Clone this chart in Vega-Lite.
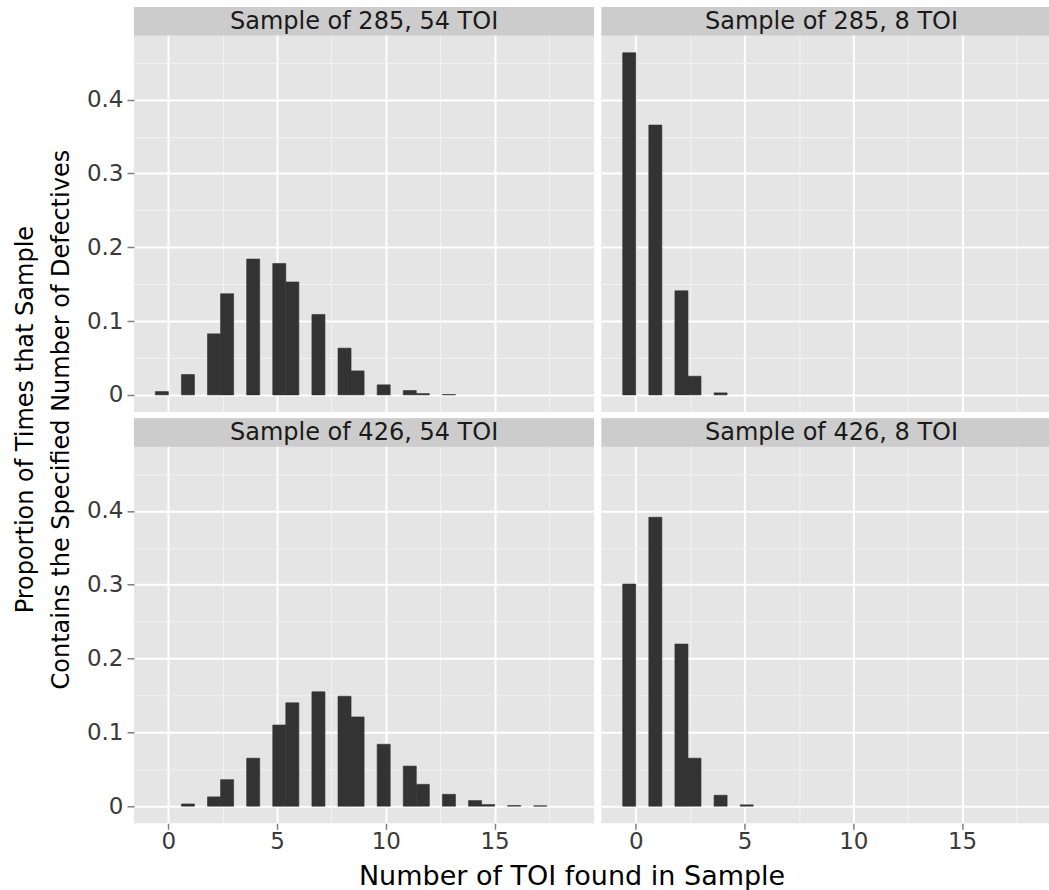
{
  "$schema": "https://vega.github.io/schema/vega-lite/v6.json",
  "background": "white",
  "padding": {"left": 14, "top": 7, "right": 0, "bottom": 0},
  "autosize": {"type": "pad"},
  "datasets": {
    "bars": [
      {"panel": "p285_54", "defects": 0, "bin_start": -0.6, "bin_end": 0.0, "prop": 0.0045},
      {"panel": "p285_54", "defects": 1, "bin_start": 0.6, "bin_end": 1.2, "prop": 0.0276},
      {"panel": "p285_54", "defects": 2, "bin_start": 1.8, "bin_end": 2.4, "prop": 0.0827},
      {"panel": "p285_54", "defects": 3, "bin_start": 2.4, "bin_end": 3.0, "prop": 0.137},
      {"panel": "p285_54", "defects": 4, "bin_start": 3.6, "bin_end": 4.2, "prop": 0.184},
      {"panel": "p285_54", "defects": 5, "bin_start": 4.8, "bin_end": 5.4, "prop": 0.178},
      {"panel": "p285_54", "defects": 6, "bin_start": 5.4, "bin_end": 6.0, "prop": 0.153},
      {"panel": "p285_54", "defects": 7, "bin_start": 6.6, "bin_end": 7.2, "prop": 0.109},
      {"panel": "p285_54", "defects": 8, "bin_start": 7.8, "bin_end": 8.4, "prop": 0.0633},
      {"panel": "p285_54", "defects": 9, "bin_start": 8.4, "bin_end": 9.0, "prop": 0.0325},
      {"panel": "p285_54", "defects": 10, "bin_start": 9.6, "bin_end": 10.2, "prop": 0.0136},
      {"panel": "p285_54", "defects": 11, "bin_start": 10.8, "bin_end": 11.4, "prop": 0.0059},
      {"panel": "p285_54", "defects": 12, "bin_start": 11.4, "bin_end": 12.0, "prop": 0.0018},
      {"panel": "p285_54", "defects": 13, "bin_start": 12.6, "bin_end": 13.2, "prop": 0.0005},
      {"panel": "p285_8", "defects": 0, "bin_start": -0.6, "bin_end": 0.0, "prop": 0.4636},
      {"panel": "p285_8", "defects": 1, "bin_start": 0.6, "bin_end": 1.2, "prop": 0.3656},
      {"panel": "p285_8", "defects": 2, "bin_start": 1.8, "bin_end": 2.4, "prop": 0.141},
      {"panel": "p285_8", "defects": 3, "bin_start": 2.4, "bin_end": 3.0, "prop": 0.0253},
      {"panel": "p285_8", "defects": 4, "bin_start": 3.6, "bin_end": 4.2, "prop": 0.0027},
      {"panel": "p426_54", "defects": 1, "bin_start": 0.6, "bin_end": 1.2, "prop": 0.003},
      {"panel": "p426_54", "defects": 2, "bin_start": 1.8, "bin_end": 2.4, "prop": 0.0126},
      {"panel": "p426_54", "defects": 3, "bin_start": 2.4, "bin_end": 3.0, "prop": 0.0359},
      {"panel": "p426_54", "defects": 4, "bin_start": 3.6, "bin_end": 4.2, "prop": 0.065},
      {"panel": "p426_54", "defects": 5, "bin_start": 4.8, "bin_end": 5.4, "prop": 0.11},
      {"panel": "p426_54", "defects": 6, "bin_start": 5.4, "bin_end": 6.0, "prop": 0.14},
      {"panel": "p426_54", "defects": 7, "bin_start": 6.6, "bin_end": 7.2, "prop": 0.155},
      {"panel": "p426_54", "defects": 8, "bin_start": 7.8, "bin_end": 8.4, "prop": 0.149},
      {"panel": "p426_54", "defects": 9, "bin_start": 8.4, "bin_end": 9.0, "prop": 0.121},
      {"panel": "p426_54", "defects": 10, "bin_start": 9.6, "bin_end": 10.2, "prop": 0.0839},
      {"panel": "p426_54", "defects": 11, "bin_start": 10.8, "bin_end": 11.4, "prop": 0.0543},
      {"panel": "p426_54", "defects": 12, "bin_start": 11.4, "bin_end": 12.0, "prop": 0.0296},
      {"panel": "p426_54", "defects": 13, "bin_start": 12.6, "bin_end": 13.2, "prop": 0.0161},
      {"panel": "p426_54", "defects": 14, "bin_start": 13.8, "bin_end": 14.4, "prop": 0.0076},
      {"panel": "p426_54", "defects": 15, "bin_start": 14.4, "bin_end": 15.0, "prop": 0.0022},
      {"panel": "p426_54", "defects": 16, "bin_start": 15.6, "bin_end": 16.2, "prop": 0.0009},
      {"panel": "p426_54", "defects": 17, "bin_start": 16.8, "bin_end": 17.4, "prop": 0.0005},
      {"panel": "p426_8", "defects": 0, "bin_start": -0.6, "bin_end": 0.0, "prop": 0.301},
      {"panel": "p426_8", "defects": 1, "bin_start": 0.6, "bin_end": 1.2, "prop": 0.3915},
      {"panel": "p426_8", "defects": 2, "bin_start": 1.8, "bin_end": 2.4, "prop": 0.2197},
      {"panel": "p426_8", "defects": 3, "bin_start": 2.4, "bin_end": 3.0, "prop": 0.065},
      {"panel": "p426_8", "defects": 4, "bin_start": 3.6, "bin_end": 4.2, "prop": 0.0148},
      {"panel": "p426_8", "defects": 5, "bin_start": 4.8, "bin_end": 5.4, "prop": 0.0018}
    ],
    "strips": [
      {"panel": "p285_54", "label": "Sample of 285, 54 TOI"},
      {"panel": "p285_8", "label": "Sample of 285, 8 TOI"},
      {"panel": "p426_54", "label": "Sample of 426, 54 TOI"},
      {"panel": "p426_8", "label": "Sample of 426, 8 TOI"}
    ]
  },
  "config": {
    "view": {"fill": "#E5E5E5", "stroke": null},
    "font": "DejaVu Sans",
    "bar": {"color": "#333333", "stroke": "#333333", "strokeWidth": 0.6},
    "axis": {
      "domain": false,
      "labelFont": "DejaVu Sans",
      "labelFontSize": 23,
      "labelColor": "#3A3A3A",
      "tickColor": "#7F7F7F",
      "tickWidth": 1.5,
      "labelOverlap": false,
      "labelFlush": false,
      "gridOpacity": 1
    }
  },
  "title": {
    "text": ["Proportion of Times that Sample", "Contains the Specified Number of Defectives"],
    "orient": "left",
    "anchor": "middle",
    "font": "DejaVu Sans",
    "fontSize": 24,
    "fontWeight": "normal",
    "color": "#000000",
    "lineHeight": 36,
    "offset": 12,
    "dx": 29
  },
  "vconcat": [
    {
      "title": {
        "text": "Number of TOI found in Sample",
        "orient": "bottom",
        "anchor": "middle",
        "frame": "bounds",
        "font": "DejaVu Sans",
        "fontSize": 27,
        "fontWeight": "normal",
        "color": "#000000",
        "offset": 11,
        "dx": 4
      },
      "spacing": 6.3,
      "vconcat": [
        {
          "spacing": 7.4,
          "hconcat": [
            {
              "width": 460,
              "height": 405,
              "layer": [
                {
                  "data": {"name": "bars"},
                  "transform": [{"filter": "datum.panel == 'p285_54'"}],
                  "mark": {"type": "bar"},
                  "encoding": {
                    "x": {"field": "bin_start", "type": "quantitative",
                      "scale": {"domain": [-1.58, 19.57], "nice": false, "zero": false},
                      "axis": {"values": [0, 2.5, 5, 7.5, 10, 12.5, 15, 17.5], "labels": false, "ticks": false, "title": null,
                        "gridColor": {"condition": {"test": "datum.value % 5 != 0", "value": "#F2F2F2"}, "value": "#FFFFFF"},
                        "gridWidth": {"condition": {"test": "datum.value % 5 != 0", "value": 1}, "value": 2}}},
                    "x2": {"field": "bin_end"},
                    "y": {"field": "prop", "type": "quantitative",
                      "scale": {"domain": [-0.0232, 0.5256], "nice": false, "zero": false},
                      "axis": {"values": [0, 0.05, 0.1, 0.15, 0.2, 0.25, 0.3, 0.35, 0.4, 0.45], "title": null,
                        "labelExpr": "round(datum.value*100) % 10 != 0 ? '' : (datum.value == 0 ? '0' : format(datum.value, '.1f'))",
                        "tickSize": 7, "labelPadding": 4,
                        "tickOpacity": {"condition": {"test": "round(datum.value*100) % 10 != 0", "value": 0}, "value": 1},
                        "gridColor": {"condition": {"test": "round(datum.value*100) % 10 != 0", "value": "#F2F2F2"}, "value": "#FFFFFF"},
                        "gridWidth": {"condition": {"test": "round(datum.value*100) % 10 != 0", "value": 1}, "value": 2}}},
                    "y2": {"datum": 0}
                  }
                },
                {
                  "data": {"name": "strips"},
                  "transform": [{"filter": "datum.panel == 'p285_54'"}],
                  "mark": {"type": "rect", "color": "#CCCCCC"},
                  "encoding": {"x": {"datum": -1.58}, "x2": {"datum": 19.57}, "y": {"datum": 0.487}, "y2": {"datum": 0.5256}}
                },
                {
                  "data": {"name": "strips"},
                  "transform": [{"filter": "datum.panel == 'p285_54'"}],
                  "mark": {"type": "text", "font": "DejaVu Sans", "fontSize": 24, "color": "#1A1A1A", "align": "center", "baseline": "middle"},
                  "encoding": {"x": {"datum": 9.0}, "y": {"datum": 0.5053}, "text": {"field": "label"}}
                }
              ]
            },
            {
              "width": 448.3,
              "height": 405,
              "layer": [
                {
                  "data": {"name": "bars"},
                  "transform": [{"filter": "datum.panel == 'p285_8'"}],
                  "mark": {"type": "bar"},
                  "encoding": {
                    "x": {"field": "bin_start", "type": "quantitative",
                      "scale": {"domain": [-1.58, 19.03], "nice": false, "zero": false},
                      "axis": {"values": [0, 2.5, 5, 7.5, 10, 12.5, 15, 17.5], "labels": false, "ticks": false, "title": null,
                        "gridColor": {"condition": {"test": "datum.value % 5 != 0", "value": "#F2F2F2"}, "value": "#FFFFFF"},
                        "gridWidth": {"condition": {"test": "datum.value % 5 != 0", "value": 1}, "value": 2}}},
                    "x2": {"field": "bin_end"},
                    "y": {"field": "prop", "type": "quantitative",
                      "scale": {"domain": [-0.0232, 0.5256], "nice": false, "zero": false},
                      "axis": {"values": [0, 0.05, 0.1, 0.15, 0.2, 0.25, 0.3, 0.35, 0.4, 0.45], "title": null, "labels": false, "ticks": false,
                        "gridColor": {"condition": {"test": "round(datum.value*100) % 10 != 0", "value": "#F2F2F2"}, "value": "#FFFFFF"},
                        "gridWidth": {"condition": {"test": "round(datum.value*100) % 10 != 0", "value": 1}, "value": 2}}},
                    "y2": {"datum": 0}
                  }
                },
                {
                  "data": {"name": "strips"},
                  "transform": [{"filter": "datum.panel == 'p285_8'"}],
                  "mark": {"type": "rect", "color": "#CCCCCC"},
                  "encoding": {"x": {"datum": -1.58}, "x2": {"datum": 19.03}, "y": {"datum": 0.487}, "y2": {"datum": 0.5256}}
                },
                {
                  "data": {"name": "strips"},
                  "transform": [{"filter": "datum.panel == 'p285_8'"}],
                  "mark": {"type": "text", "font": "DejaVu Sans", "fontSize": 24, "color": "#1A1A1A", "align": "center", "baseline": "middle"},
                  "encoding": {"x": {"datum": 9.0}, "y": {"datum": 0.5053}, "text": {"field": "label"}}
                }
              ]
            }
          ]
        },
        {
          "spacing": 7.4,
          "hconcat": [
            {
              "width": 460,
              "height": 405,
              "layer": [
                {
                  "data": {"name": "bars"},
                  "transform": [{"filter": "datum.panel == 'p426_54'"}],
                  "mark": {"type": "bar"},
                  "encoding": {
                    "x": {"field": "bin_start", "type": "quantitative",
                      "scale": {"domain": [-1.58, 19.57], "nice": false, "zero": false},
                      "axis": {"values": [0, 2.5, 5, 7.5, 10, 12.5, 15, 17.5], "title": null,
                        "labelExpr": "datum.value % 5 != 0 ? '' : format(datum.value, 'd')",
                        "tickSize": 6, "labelPadding": 1,
                        "tickOpacity": {"condition": {"test": "datum.value % 5 != 0", "value": 0}, "value": 1},
                        "gridColor": {"condition": {"test": "datum.value % 5 != 0", "value": "#F2F2F2"}, "value": "#FFFFFF"},
                        "gridWidth": {"condition": {"test": "datum.value % 5 != 0", "value": 1}, "value": 2}}},
                    "x2": {"field": "bin_end"},
                    "y": {"field": "prop", "type": "quantitative",
                      "scale": {"domain": [-0.0232, 0.5256], "nice": false, "zero": false},
                      "axis": {"values": [0, 0.05, 0.1, 0.15, 0.2, 0.25, 0.3, 0.35, 0.4, 0.45], "title": null,
                        "labelExpr": "round(datum.value*100) % 10 != 0 ? '' : (datum.value == 0 ? '0' : format(datum.value, '.1f'))",
                        "tickSize": 7, "labelPadding": 4,
                        "tickOpacity": {"condition": {"test": "round(datum.value*100) % 10 != 0", "value": 0}, "value": 1},
                        "gridColor": {"condition": {"test": "round(datum.value*100) % 10 != 0", "value": "#F2F2F2"}, "value": "#FFFFFF"},
                        "gridWidth": {"condition": {"test": "round(datum.value*100) % 10 != 0", "value": 1}, "value": 2}}},
                    "y2": {"datum": 0}
                  }
                },
                {
                  "data": {"name": "strips"},
                  "transform": [{"filter": "datum.panel == 'p426_54'"}],
                  "mark": {"type": "rect", "color": "#CCCCCC"},
                  "encoding": {"x": {"datum": -1.58}, "x2": {"datum": 19.57}, "y": {"datum": 0.487}, "y2": {"datum": 0.5256}}
                },
                {
                  "data": {"name": "strips"},
                  "transform": [{"filter": "datum.panel == 'p426_54'"}],
                  "mark": {"type": "text", "font": "DejaVu Sans", "fontSize": 24, "color": "#1A1A1A", "align": "center", "baseline": "middle"},
                  "encoding": {"x": {"datum": 9.0}, "y": {"datum": 0.5053}, "text": {"field": "label"}}
                }
              ]
            },
            {
              "width": 448.3,
              "height": 405,
              "layer": [
                {
                  "data": {"name": "bars"},
                  "transform": [{"filter": "datum.panel == 'p426_8'"}],
                  "mark": {"type": "bar"},
                  "encoding": {
                    "x": {"field": "bin_start", "type": "quantitative",
                      "scale": {"domain": [-1.58, 19.03], "nice": false, "zero": false},
                      "axis": {"values": [0, 2.5, 5, 7.5, 10, 12.5, 15, 17.5], "title": null,
                        "labelExpr": "datum.value % 5 != 0 ? '' : format(datum.value, 'd')",
                        "tickSize": 6, "labelPadding": 1,
                        "tickOpacity": {"condition": {"test": "datum.value % 5 != 0", "value": 0}, "value": 1},
                        "gridColor": {"condition": {"test": "datum.value % 5 != 0", "value": "#F2F2F2"}, "value": "#FFFFFF"},
                        "gridWidth": {"condition": {"test": "datum.value % 5 != 0", "value": 1}, "value": 2}}},
                    "x2": {"field": "bin_end"},
                    "y": {"field": "prop", "type": "quantitative",
                      "scale": {"domain": [-0.0232, 0.5256], "nice": false, "zero": false},
                      "axis": {"values": [0, 0.05, 0.1, 0.15, 0.2, 0.25, 0.3, 0.35, 0.4, 0.45], "title": null, "labels": false, "ticks": false,
                        "gridColor": {"condition": {"test": "round(datum.value*100) % 10 != 0", "value": "#F2F2F2"}, "value": "#FFFFFF"},
                        "gridWidth": {"condition": {"test": "round(datum.value*100) % 10 != 0", "value": 1}, "value": 2}}},
                    "y2": {"datum": 0}
                  }
                },
                {
                  "data": {"name": "strips"},
                  "transform": [{"filter": "datum.panel == 'p426_8'"}],
                  "mark": {"type": "rect", "color": "#CCCCCC"},
                  "encoding": {"x": {"datum": -1.58}, "x2": {"datum": 19.03}, "y": {"datum": 0.487}, "y2": {"datum": 0.5256}}
                },
                {
                  "data": {"name": "strips"},
                  "transform": [{"filter": "datum.panel == 'p426_8'"}],
                  "mark": {"type": "text", "font": "DejaVu Sans", "fontSize": 24, "color": "#1A1A1A", "align": "center", "baseline": "middle"},
                  "encoding": {"x": {"datum": 9.0}, "y": {"datum": 0.5053}, "text": {"field": "label"}}
                }
              ]
            }
          ]
        }
      ]
    }
  ]
}
